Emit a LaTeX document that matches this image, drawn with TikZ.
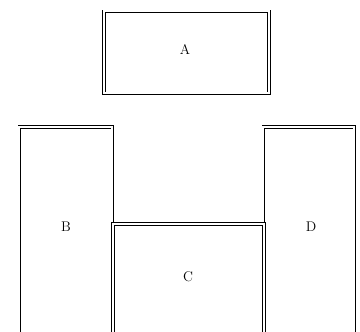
\documentclass[tikz,border=0pt]{standalone}
\usepackage{tikz}
\usetikzlibrary{positioning}

\begin{document}
\begin{tikzpicture}[
  x=1pt,y=-1pt,
  room/.style={draw,double,double distance=2pt,line width=.9pt,inner sep=0pt,
    anchor=north west,font=\fontsize{14}{16}\selectfont},
  tag/.style={font=\fontsize{14}{16}\selectfont}
]
  \useasboundingbox (0,0) rectangle (360,332);
  \clip (0,0) rectangle (360,332);

  \node[room,minimum width=165pt,minimum height=82pt] (A) at (103.5,11) {};
  \node[room,minimum width=93pt,minimum height=220pt] (B) at (19,126.5) {};
  \node[room,minimum width=91pt,minimum height=220pt] (D) at (263,126.5) {};
  \node[room,minimum width=151pt,minimum height=123pt,anchor=south west] (C) at (B.south east) {};

  \node[tag] (labA) at (185,50) {A};
  \node[tag] (labB) at (66,227) {B};
  \node[tag] (labC) at (188,277) {C};
  \node[tag] (labD) at (311,227) {D};
\end{tikzpicture}
\end{document}
